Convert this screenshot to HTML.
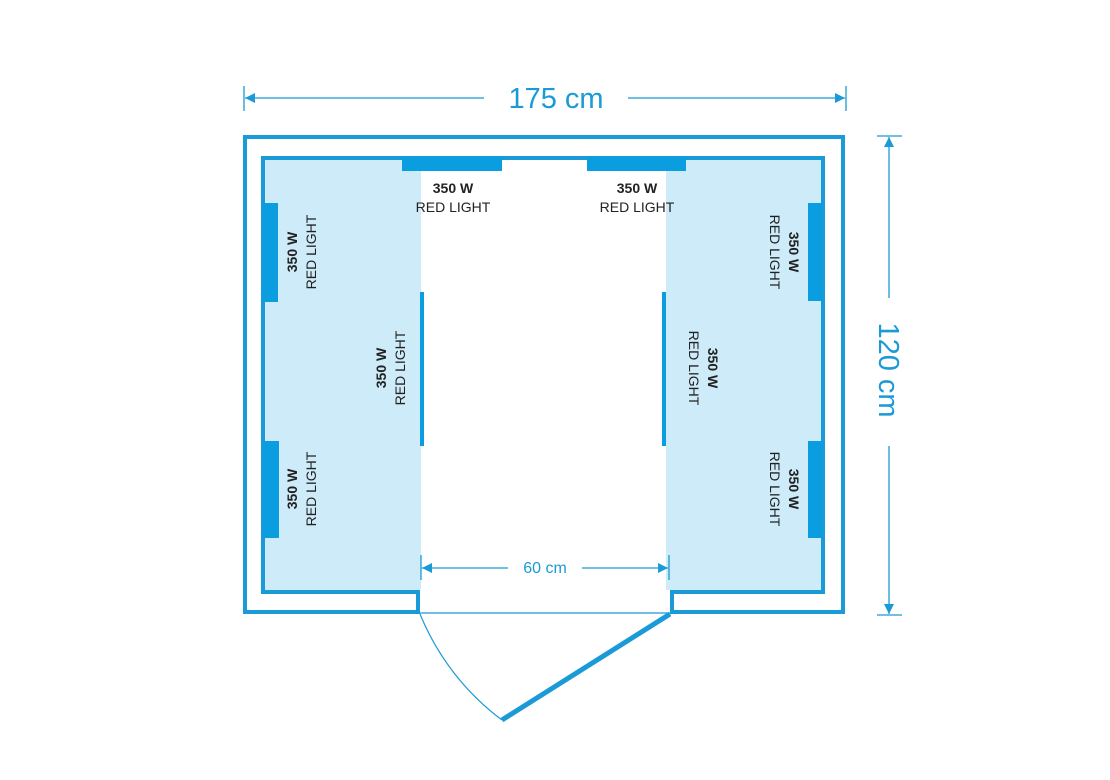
<!DOCTYPE html>
<html><head><style>html,body{margin:0;padding:0;background:#fff}svg{display:block}</style></head>
<body>
<svg width="1110" height="780" viewBox="0 0 1110 780" xmlns="http://www.w3.org/2000/svg" font-family="Liberation Sans, sans-serif">
<defs><marker id="a" viewBox="0 0 10 10" refX="10" refY="5" markerWidth="14" markerHeight="10" markerUnits="userSpaceOnUse" orient="auto-start-reverse"><path d="M0,0L10,5L0,10z" fill="#1a9ad6"/></marker></defs>
<g fill="#cdebf8"><rect x="263" y="158" width="158" height="432"/><rect x="666" y="158" width="157" height="432"/></g>
<g fill="none" stroke="#1a9ad6" stroke-width="4">
<path d="M420,612 H245 V137 H843 V612 H670"/>
<path d="M418,614 V592 H263 V158 H823 V592 H672 V614"/>
</g>
<line x1="420" y1="613" x2="670" y2="613" stroke="#1a9ad6" stroke-width="1.3"/>
<path d="M420,614 A250,250 0 0 0 502,720" fill="none" stroke="#1a9ad6" stroke-width="1.2"/>
<line x1="670" y1="614" x2="502" y2="720" stroke="#1a9ad6" stroke-width="5"/>
<g fill="#0a9de0">
<rect x="402" y="157" width="100" height="14"/><rect x="587" y="157" width="99" height="14"/>
<rect x="263" y="203" width="15" height="99"/><rect x="263" y="441" width="16" height="97"/>
<rect x="808" y="203" width="15" height="98"/><rect x="808" y="441" width="15" height="97"/>
<rect x="420" y="292" width="4" height="154"/><rect x="662" y="292" width="4" height="154"/>
</g>
<g stroke="#1a9ad6" stroke-width="1.3">
<line x1="244" y1="86" x2="244" y2="111"/><line x1="846" y1="86" x2="846" y2="111"/>
<line x1="245" y1="98" x2="484" y2="98" marker-start="url(#a)"/><line x1="628" y1="98" x2="845" y2="98" marker-end="url(#a)"/>
<line x1="877" y1="136" x2="902" y2="136"/><line x1="877" y1="615" x2="902" y2="615"/>
<line x1="889" y1="137" x2="889" y2="298" marker-start="url(#a)"/><line x1="889" y1="446" x2="889" y2="614" marker-end="url(#a)"/>
<line x1="421" y1="555" x2="421" y2="580"/><line x1="669" y1="555" x2="669" y2="580"/>
<line x1="422" y1="568" x2="508" y2="568" marker-start="url(#a)"/><line x1="582" y1="568" x2="668" y2="568" marker-end="url(#a)"/>
</g>
<g fill="#1a9ad6">
<text x="556" y="108" font-size="29" text-anchor="middle">175 cm</text>
<text x="545" y="573" font-size="16" text-anchor="middle">60 cm</text>
<text transform="translate(879,370) rotate(90)" font-size="29" text-anchor="middle">120 cm</text>
</g>
<g fill="#222" text-anchor="middle">
<text x="453" y="193" font-size="14" font-weight="bold">350 W</text><text x="453" y="212" font-size="14">RED LIGHT</text>
<text x="637" y="193" font-size="14" font-weight="bold">350 W</text><text x="637" y="212" font-size="14">RED LIGHT</text>
<g transform="translate(297,252) rotate(-90)"><text font-size="14" font-weight="bold">350 W</text><text y="19" font-size="14">RED LIGHT</text></g>
<g transform="translate(297,489) rotate(-90)"><text font-size="14" font-weight="bold">350 W</text><text y="19" font-size="14">RED LIGHT</text></g>
<g transform="translate(386,368) rotate(-90)"><text font-size="14" font-weight="bold">350 W</text><text y="19" font-size="14">RED LIGHT</text></g>
<g transform="translate(789,252) rotate(90)"><text font-size="14" font-weight="bold">350 W</text><text y="19" font-size="14">RED LIGHT</text></g>
<g transform="translate(789,489) rotate(90)"><text font-size="14" font-weight="bold">350 W</text><text y="19" font-size="14">RED LIGHT</text></g>
<g transform="translate(708,368) rotate(90)"><text font-size="14" font-weight="bold">350 W</text><text y="19" font-size="14">RED LIGHT</text></g>
</g>
</svg>
</body></html>
